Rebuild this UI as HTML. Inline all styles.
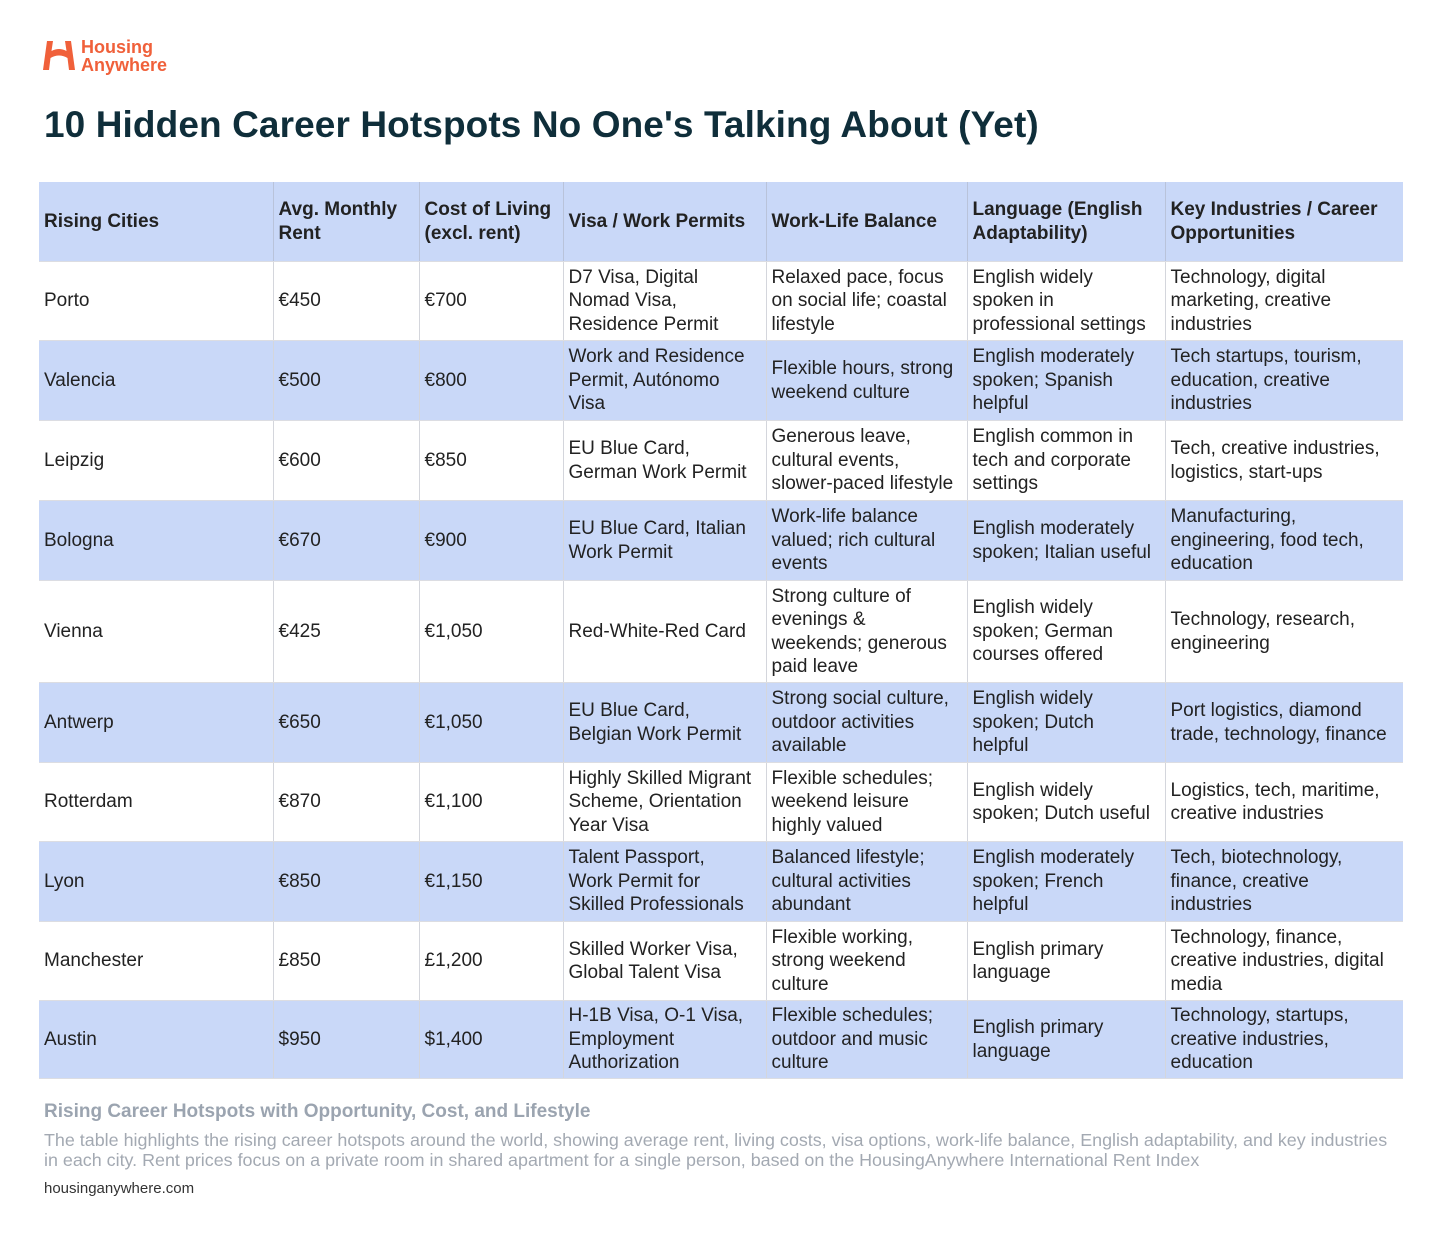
<!DOCTYPE html>
<html><head><meta charset="utf-8"><style>
body{margin:0;width:1440px;height:1236px;background:#fff;font-family:"Liberation Sans",sans-serif;position:relative;overflow:hidden}
.logo{position:absolute;left:40px;top:38px}
.logo .t{position:absolute;left:41px;top:0;color:#f0603a;font-weight:bold;font-size:18px;line-height:18px;white-space:nowrap}
h1{position:absolute;left:44px;top:104px;margin:0;font-size:37px;font-weight:bold;color:#0f2e3a;white-space:nowrap;letter-spacing:0.1px}
table{position:absolute;left:39px;top:182px;width:1364px;border-collapse:collapse;table-layout:fixed}
td{font-size:19px;line-height:23.5px;color:#222;padding:0 2px 0 5px;vertical-align:middle;border-left:1px solid #d4d6dc;border-bottom:1px solid #dcdde2;overflow:hidden;white-space:nowrap}
td:first-child{border-left:none}
tr.h td{font-weight:bold;height:79px;background:#c9d8f8;border-left-color:#b9c3da}
tr.s td{background:#c9d8f8}
.cap{position:absolute;left:44px;top:1101px;font-size:19px;font-weight:bold;color:#9ba4b0}
.desc{position:absolute;left:44px;top:1130px;font-size:17.9px;line-height:20px;color:#a3a9b2;white-space:nowrap}
.src{position:absolute;left:44px;top:1180px;font-size:15px;color:#333}
</style></head><body>
<div class="logo"><svg width="38" height="34" viewBox="0 0 38 34"><path d="M3 32 L7 3 L13 3 L11.5 13 Q19 9 26.5 13 L25 3 L31 3 L35 32 L29 32 L27.5 20 Q19 15 10.5 20 L9 32Z" fill="#f0603a"/></svg><div class="t">Housing<br>Anywhere</div></div>
<h1>10 Hidden Career Hotspots No One's Talking About (Yet)</h1>
<table>
<colgroup><col style="width:234px"><col style="width:146px"><col style="width:144px"><col style="width:203px"><col style="width:201px"><col style="width:198px"><col style="width:238px"></colgroup>
<tr class="h"><td>Rising Cities</td><td>Avg. Monthly<br>Rent</td><td>Cost of Living<br>(excl. rent)</td><td>Visa / Work Permits</td><td>Work-Life Balance</td><td>Language (English<br>Adaptability)</td><td>Key Industries / Career<br>Opportunities</td></tr>
<tr style="height:79px"><td>Porto</td><td>€450</td><td>€700</td><td>D7 Visa, Digital<br>Nomad Visa,<br>Residence Permit</td><td>Relaxed pace, focus<br>on social life; coastal<br>lifestyle</td><td>English widely<br>spoken in<br>professional settings</td><td>Technology, digital<br>marketing, creative<br>industries</td></tr>
<tr class="s" style="height:80px"><td>Valencia</td><td>€500</td><td>€800</td><td>Work and Residence<br>Permit, Autónomo<br>Visa</td><td>Flexible hours, strong<br>weekend culture</td><td>English moderately<br>spoken; Spanish<br>helpful</td><td>Tech startups, tourism,<br>education, creative<br>industries</td></tr>
<tr style="height:80px"><td>Leipzig</td><td>€600</td><td>€850</td><td>EU Blue Card,<br>German Work Permit</td><td>Generous leave,<br>cultural events,<br>slower-paced lifestyle</td><td>English common in<br>tech and corporate<br>settings</td><td>Tech, creative industries,<br>logistics, start-ups</td></tr>
<tr class="s" style="height:80px"><td>Bologna</td><td>€670</td><td>€900</td><td>EU Blue Card, Italian<br>Work Permit</td><td>Work-life balance<br>valued; rich cultural<br>events</td><td>English moderately<br>spoken; Italian useful</td><td>Manufacturing,<br>engineering, food tech,<br>education</td></tr>
<tr style="height:102px"><td>Vienna</td><td>€425</td><td>€1,050</td><td>Red-White-Red Card</td><td>Strong culture of<br>evenings &amp;<br>weekends; generous<br>paid leave</td><td>English widely<br>spoken; German<br>courses offered</td><td>Technology, research,<br>engineering</td></tr>
<tr class="s" style="height:80px"><td>Antwerp</td><td>€650</td><td>€1,050</td><td>EU Blue Card,<br>Belgian Work Permit</td><td>Strong social culture,<br>outdoor activities<br>available</td><td>English widely<br>spoken; Dutch<br>helpful</td><td>Port logistics, diamond<br>trade, technology, finance</td></tr>
<tr style="height:79px"><td>Rotterdam</td><td>€870</td><td>€1,100</td><td>Highly Skilled Migrant<br>Scheme, Orientation<br>Year Visa</td><td>Flexible schedules;<br>weekend leisure<br>highly valued</td><td>English widely<br>spoken; Dutch useful</td><td>Logistics, tech, maritime,<br>creative industries</td></tr>
<tr class="s" style="height:80px"><td>Lyon</td><td>€850</td><td>€1,150</td><td>Talent Passport,<br>Work Permit for<br>Skilled Professionals</td><td>Balanced lifestyle;<br>cultural activities<br>abundant</td><td>English moderately<br>spoken; French<br>helpful</td><td>Tech, biotechnology,<br>finance, creative<br>industries</td></tr>
<tr style="height:79px"><td>Manchester</td><td>£850</td><td>£1,200</td><td>Skilled Worker Visa,<br>Global Talent Visa</td><td>Flexible working,<br>strong weekend<br>culture</td><td>English primary<br>language</td><td>Technology, finance,<br>creative industries, digital<br>media</td></tr>
<tr class="s" style="height:78px"><td>Austin</td><td>$950</td><td>$1,400</td><td>H-1B Visa, O-1 Visa,<br>Employment<br>Authorization</td><td>Flexible schedules;<br>outdoor and music<br>culture</td><td>English primary<br>language</td><td>Technology, startups,<br>creative industries,<br>education</td></tr>
</table>
<div class="cap">Rising Career Hotspots with Opportunity, Cost, and Lifestyle</div>
<div class="desc">The table highlights the rising career hotspots around the world, showing average rent, living costs, visa options, work-life balance, English adaptability, and key industries<br>in each city. Rent prices focus on a private room in shared apartment for a single person, based on the HousingAnywhere International Rent Index</div>
<div class="src">housinganywhere.com</div>
</body></html>
